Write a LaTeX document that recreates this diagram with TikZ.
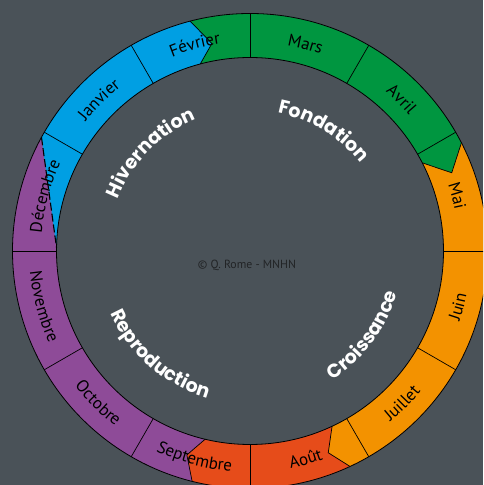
\documentclass[tikz,border=0pt]{standalone}
\usepackage{fontspec}
\setmainfont{PT Sans}
\newfontfamily\monthfam{PT Sans}
\newfontfamily\phasefam{Poppins}
\usetikzlibrary{decorations.text}
\definecolor{bg}{RGB}{74,82,88}
\definecolor{cblue}{RGB}{0,159,227}
\definecolor{cgreen}{RGB}{0,150,64}
\definecolor{corange}{RGB}{243,146,0}
\definecolor{cred}{RGB}{230,76,26}
\definecolor{cpurple}{RGB}{142,75,152}
\definecolor{copyc}{RGB}{34,36,38}
\newcommand\mfont{\monthfam\fontsize{17}{20}\selectfont}
\newcommand\pfont{\phasefam\bfseries\fontsize{19}{22}\selectfont}
\def\Ro{237.5}
\def\Ri{193.5}
\newcommand\toplabel[3]{\path[decorate,decoration={text along path,text align=center,text={|#3|#2}}] ({#1+45}:209) arc[start angle={#1+45}, end angle={#1-45}, radius=209];}
\newcommand\botlabel[3]{\path[decorate,decoration={text along path,text align=center,text={|#3|#2}}] ({#1-45}:221) arc[start angle={#1-45}, end angle={#1+45}, radius=221];}
\begin{document}
\begin{tikzpicture}[x=1pt,y=1pt,
  divline/.style={draw=black,line width=0.7pt},
  rimline/.style={draw=black,line width=0.8pt},
  dashline/.style={draw=black,line width=1.1pt,dash pattern=on 8pt off 3pt}]
\fill[bg] (0,0) rectangle (483,485);
\useasboundingbox (0,0) rectangle (483,485);
\clip (0,0) rectangle (483,485);
\begin{scope}[shift={(250,234)}]
  % phase colours
  \fill[cpurple] (0,0) circle[radius=\Ro];
  \fill[cblue] (0,0) -- (179:\Ri) -- (151.4:\Ro) arc[start angle=151.4, end angle=104.6, radius=\Ro] -- (100.4:211) -- (104.9:\Ri) -- cycle;
  \fill[cgreen] (0,0) -- (104.9:\Ri) -- (100.4:211) -- (104.6:\Ro) arc[start angle=104.6, end angle=27.1, radius=\Ro] -- (21.2:216.4) -- (27.1:\Ri) -- cycle;
  \fill[corange] (0,0) -- (27.1:\Ri) -- (21.2:216.4) -- (27.1:\Ro) arc[start angle=27.1, end angle=-65.1, radius=\Ro] -- (-68.8:216.4) -- (-64.9:\Ri) -- cycle;
  \fill[cred] (0,0) -- (-64.9:\Ri) -- (-68.8:216.4) -- (-65.1:\Ro) arc[start angle=-65.1, end angle=-104.1, radius=\Ro] -- (-107.2:213.5) -- (-103.4:\Ri) -- cycle;
  \fill[bg] (0,0) circle[radius=\Ri];
  % arrow outlines
  \draw[divline] (104.6:\Ro) -- (100.4:211) -- (104.9:\Ri);
  \draw[divline] (27.1:\Ro) -- (21.2:216.4) -- (27.1:\Ri);
  \draw[divline] (-65.1:\Ro) -- (-68.8:216.4) -- (-64.9:\Ri);
  \draw[divline] (-104.1:\Ro) -- (-107.2:213.5) -- (-103.4:\Ri);
  % month dividers
  \foreach \a in {0,30,...,330} {\draw[divline] (\a:\Ri) -- (\a:\Ro);}
  % dashed boundary in December
  \draw[dashline] (151.4:\Ro) -- (179:\Ri);
  % rims
  \draw[rimline] (0,0) circle[radius=\Ro];
  \draw[rimline] (0,0) circle[radius=\Ri];
  % month labels
  \toplabel{165}{Décembre}{\mfont}
  \toplabel{135}{Janvier}{\mfont}
  \toplabel{105}{Février}{\mfont}
  \toplabel{75}{Mars}{\mfont}
  \toplabel{45}{Avril}{\mfont}
  \toplabel{15}{Mai}{\mfont}
  \botlabel{-15}{Juin}{\mfont}
  \botlabel{-45}{Juillet}{\mfont}
  \botlabel{-75}{Août}{\mfont}
  \botlabel{-105}{Septembre}{\mfont}
  \botlabel{-135}{Octobre}{\mfont}
  \botlabel{-165}{Novembre}{\mfont}
  % phase labels
  \path[decorate,decoration={text along path,text align=center,text={|\color{white}\pfont|Hivernation}}] (180.5:142) arc[start angle=180.5, end angle=90.5, radius=142];
  \path[decorate,decoration={text along path,text align=center,text={|\color{white}\pfont|Fondation}}] (103.5:141) arc[start angle=103.5, end angle=13.5, radius=141];
  \path[decorate,decoration={text along path,text align=center,text={|\color{white}\pfont|Reproduction}}] (-181:153) arc[start angle=-181, end angle=-81, radius=153];
  \path[decorate,decoration={text along path,text align=center,text={|\color{white}\pfont|Croissance}}] (-81.7:153) arc[start angle=-81.7, end angle=8.3, radius=153];
  % copyright
  \node[text=copyc,font=\fontsize{11.8}{14}\selectfont,inner sep=0pt] (copy) at (-3,-14) {© Q. Rome - MNHN};
\end{scope}
\end{tikzpicture}
\end{document}
